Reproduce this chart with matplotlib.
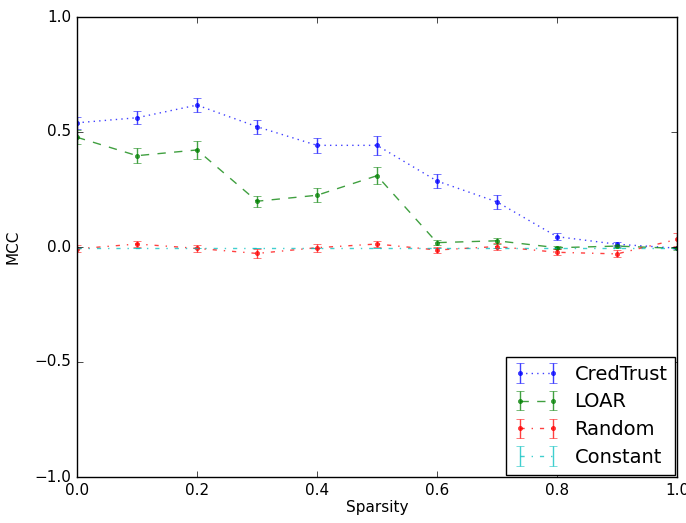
import matplotlib
matplotlib.use("Agg")
import matplotlib.pyplot as plt

plt.style.use('classic')
plt.rcParams['font.size'] = 11
plt.rcParams['xtick.labelsize'] = 11
plt.rcParams['ytick.labelsize'] = 11
plt.rcParams['axes.labelsize'] = 11

sparsity = [0.0, 0.1, 0.2, 0.3, 0.4, 0.5, 0.6, 0.7, 0.8, 0.9, 1.0]

credtrust = [0.540, 0.562, 0.617, 0.523, 0.442, 0.442, 0.287, 0.196, 0.045, 0.012, -0.005]
credtrust_err = [0.025, 0.028, 0.029, 0.030, 0.033, 0.042, 0.030, 0.030, 0.015, 0.009, 0.005]

loar = [0.477, 0.397, 0.422, 0.199, 0.225, 0.310, 0.019, 0.027, -0.003, 0.004, -0.006]
loar_err = [0.030, 0.033, 0.038, 0.023, 0.030, 0.037, 0.010, 0.012, 0.006, 0.006, 0.005]

random_ = [-0.008, 0.013, -0.006, -0.028, -0.003, 0.013, -0.013, 0.002, -0.023, -0.030, 0.033]
random_err = [0.015, 0.015, 0.015, 0.018, 0.017, 0.015, 0.015, 0.017, 0.013, 0.015, 0.030]

constant = [-0.003, -0.003, -0.003, -0.003, -0.003, -0.003, -0.003, -0.003, -0.003, -0.003, -0.003]
constant_err = [0.0, 0.0, 0.0, 0.0, 0.0, 0.0, 0.0, 0.0, 0.0, 0.0, 0.0]

fig = plt.figure(figsize=(6.86, 5.23), dpi=100)
ax = fig.add_axes([77/686, 46/523, 600/686, 460/523])

ax.errorbar(sparsity, credtrust, yerr=credtrust_err, fmt='b.:', alpha=0.75, capsize=2.7, label='CredTrust')
ax.errorbar(sparsity, loar, yerr=loar_err, fmt='g.--', alpha=0.75, capsize=2.7, label='LOAR')
ax.errorbar(sparsity, random_, yerr=random_err, fmt='r.-.', alpha=0.75, capsize=2.7, label='Random')
ax.errorbar(sparsity, constant, yerr=constant_err, fmt='c-.', alpha=0.75, capsize=2.7, label='Constant')

ax.set_xlim(0, 1)
ax.set_ylim(-1, 1)
ax.set_xticks([0.0, 0.2, 0.4, 0.6, 0.8, 1.0])
ax.set_yticks([-1.0, -0.5, 0.0, 0.5, 1.0])
ax.set_xlabel('Sparsity', labelpad=2)
ax.set_ylabel('MCC', labelpad=10)
ax.legend(loc='lower right', bbox_to_anchor=(0.997, 0.005), borderaxespad=0.0,
          fontsize=14, handlelength=2.3, labelspacing=0.45)

fig.savefig('out.png', dpi=100)
